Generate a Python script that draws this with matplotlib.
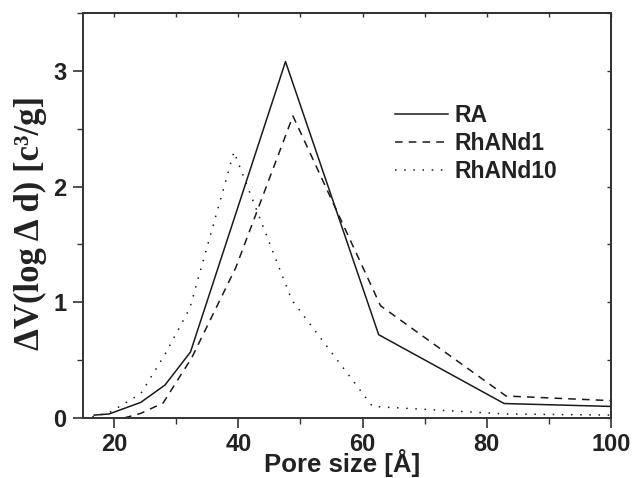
import matplotlib
matplotlib.use("Agg")
import matplotlib.pyplot as plt
from matplotlib.ticker import MultipleLocator

# Données (taille de pore en Å, dV/dlogD)
ra_x = [16.8, 19.2, 24.3, 28.2, 32.3, 39.5, 47.6, 62.6, 82.8, 100]
ra_y = [0.025, 0.035, 0.135, 0.285, 0.57, 1.75, 3.08, 0.72, 0.125, 0.10]

rhand1_x = [21.6, 24.3, 27.9, 32.5, 39.6, 48.8, 62.9, 83.1, 100]
rhand1_y = [0.0, 0.04, 0.13, 0.52, 1.30, 2.61, 0.97, 0.19, 0.15]

rhand10_x = [16.5, 19.2, 24.3, 28.2, 32.2, 39.3, 48.6, 61.6, 83.0, 100]
rhand10_y = [0.01, 0.045, 0.21, 0.55, 0.95, 2.30, 1.02, 0.10, 0.035, 0.025]

labels = ["RA", "RhANd1", "RhANd10"]

plt.rcParams['font.family'] = ['Liberation Sans', 'DejaVu Sans']

fig = plt.figure(figsize=(6.33, 4.78), dpi=100)
ax = fig.add_axes([83 / 633, 60 / 478, 528 / 633, 405 / 478])

col = '#1a1a1a'
ax.plot(ra_x, ra_y, color=col, lw=1.1, ls='-', label=labels[0])
ax.plot(rhand1_x, rhand1_y, color=col, lw=1.1, ls=(0, (5, 4)), label=labels[1])
ax.plot(rhand10_x, rhand10_y, color=col, lw=1.1, ls=(0, (1, 5)), label=labels[2])

ax.set_xlim(15, 100)
ax.set_ylim(0, 3.5)
ax.xaxis.set_major_locator(MultipleLocator(20))
ax.xaxis.set_minor_locator(MultipleLocator(10))
ax.yaxis.set_major_locator(MultipleLocator(1))
ax.yaxis.set_minor_locator(MultipleLocator(0.5))

for s in ax.spines.values():
    s.set_linewidth(1.4)
    s.set_color('#333333')

ax.tick_params(axis='both', which='major', direction='out', length=7, width=1.2,
               labelsize=17, pad=5, colors='#333333', labelcolor='#222222')
ax.tick_params(axis='x', which='major', pad=3.5)
ax.tick_params(axis='both', which='minor', direction='out', length=4, width=1.0,
               colors='#333333')
for lbl in ax.get_xticklabels() + ax.get_yticklabels():
    lbl.set_fontweight('bold')

# petits traits vers l'intérieur en haut et à droite
top = ax.secondary_xaxis('top')
top.xaxis.set_major_locator(MultipleLocator(10))
top.tick_params(direction='in', length=3, width=1.0, labeltop=False, colors='#333333')
right = ax.secondary_yaxis('right')
right.yaxis.set_major_locator(MultipleLocator(0.5))
right.tick_params(direction='in', length=3, width=1.0, labelright=False, colors='#333333')
for sec in (top, right):
    for s in sec.spines.values():
        s.set_linewidth(1.4)
        s.set_color('#333333')

ax.set_xlabel("Pore size [Å]", fontsize=18.5, fontweight='bold', color='#222222',
              va='baseline')
ax.xaxis.set_label_coords(0.49, -0.1345)
ax.set_ylabel("ΔV(log Δ d) [c³/g]", fontsize=25, fontweight='bold',
              family=['Liberation Serif', 'DejaVu Serif'], color='#222222',
              va='center')
ax.yaxis.set_label_coords(-0.100, 0.481)

leg = ax.legend(loc='upper left', bbox_to_anchor=(0.591, 0.775), frameon=False,
                borderpad=0, borderaxespad=0,
                handlelength=2.3, handletextpad=0.3, labelspacing=0.22,
                prop={'weight': 'bold', 'size': 16.5})
for t in leg.get_texts():
    t.set_color('#222222')

fig.savefig("out.png", dpi=100)
